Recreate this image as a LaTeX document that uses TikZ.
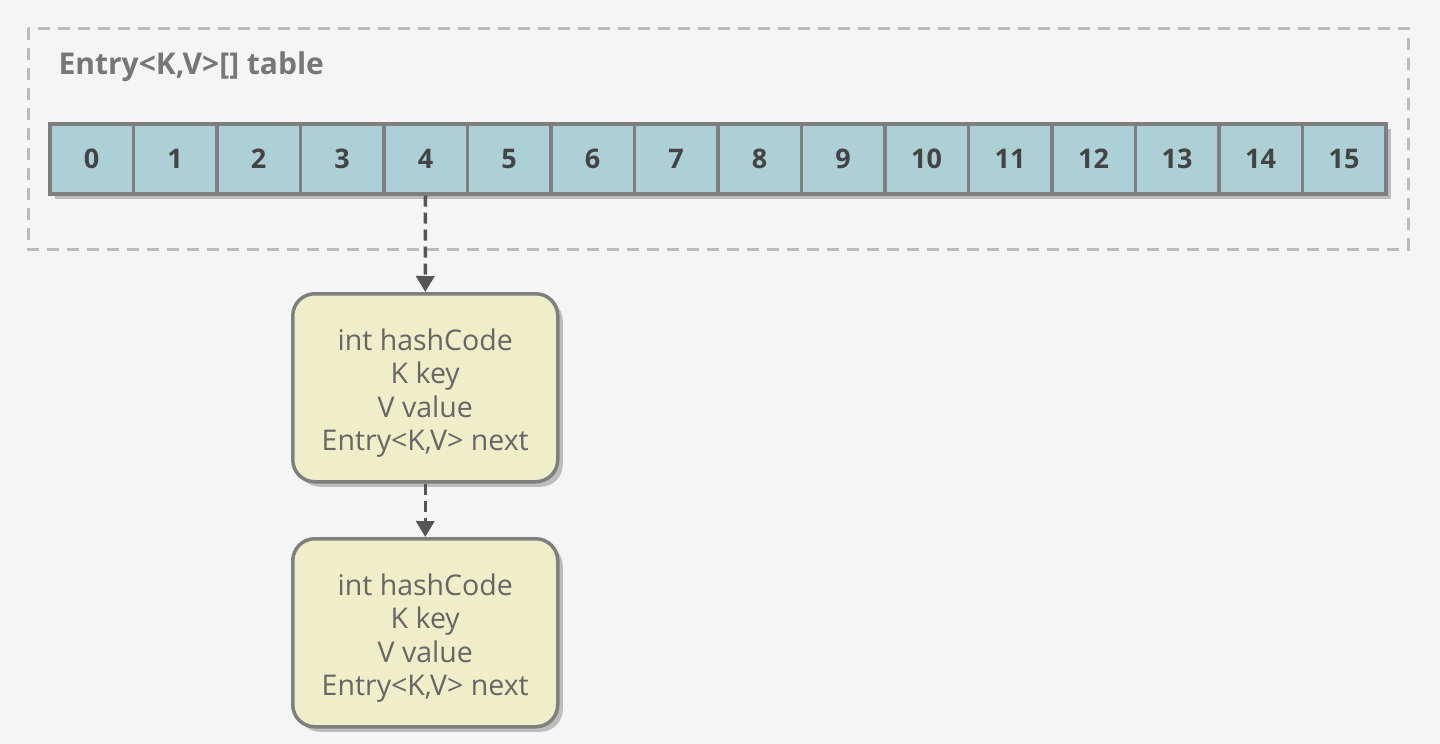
\documentclass[tikz,border=0pt]{standalone}
\usepackage{fontspec}
\setmainfont{Open Sans}
\usetikzlibrary{arrows.meta,shadows}
\definecolor{bg}{HTML}{F5F5F5}
\definecolor{cellfill}{HTML}{ADCFD6}
\definecolor{cellline}{HTML}{7F7F7F}
\definecolor{entryfill}{HTML}{EEEEC8}
\definecolor{shadowgray}{HTML}{BDBDBD}
\definecolor{dashgray}{HTML}{BBBBBB}
\definecolor{arrowgray}{HTML}{555555}
\definecolor{titlegray}{HTML}{777777}
\definecolor{numgray}{HTML}{444444}
\definecolor{textgray}{HTML}{666666}
\tikzset{
  cellbox/.style={draw=cellline, line width=3.5pt, fill=cellfill, minimum width=83.5pt, minimum height=70pt, inner sep=0pt, anchor=north west,
    font=\fontsize{27}{30}\selectfont\bfseries, text=numgray,
    drop shadow={shadow xshift=5pt, shadow yshift=-5pt, fill=shadowgray, opacity=1}},
  entrybox/.style={draw=cellline, line width=3.5pt, fill=entryfill, rounded corners=22pt, minimum width=265pt, minimum height=188pt, inner sep=0pt, anchor=north west,
    align=center, font=\fontsize{28.5}{33.5}\selectfont, text=textgray,
    drop shadow={shadow xshift=5pt, shadow yshift=-5pt, fill=shadowgray, opacity=1}},
  link/.style={draw=arrowgray, line width=3.5pt, dash pattern=on 11pt off 6pt, -{Triangle[length=16pt,width=18pt]}},
}
\begin{document}
\begin{tikzpicture}[x=1pt,y=-1pt]
\fill[bg] (0,0) rectangle (1440,744);
\useasboundingbox (0,0) rectangle (1440,744);
\draw[dashgray, line width=3pt, dash pattern=on 12pt off 8pt] (28,28) rectangle (1408,249);
\node[anchor=west, font=\fontsize{30}{34}\selectfont\bfseries, text=titlegray] (title) at (55,67) {Entry<K,V>[] table};
\foreach \i in {0,...,15} {
  \node[cellbox] (c\i) at ({48+83.5*\i},122) {\i};
}
\node[entrybox] (e1) at (291,292) {\raisebox{0pt}[1.15em][0pt]{}int hashCode\\K key\\V value\\Entry<K,V> next};
\node[entrybox] (e2) at (291,537) {\raisebox{0pt}[1.15em][0pt]{}int hashCode\\K key\\V value\\Entry<K,V> next};
\draw[link] (c4.south) -- (e1.north);
\draw[link] (e1.south) -- (e2.north);
\end{tikzpicture}
\end{document}
